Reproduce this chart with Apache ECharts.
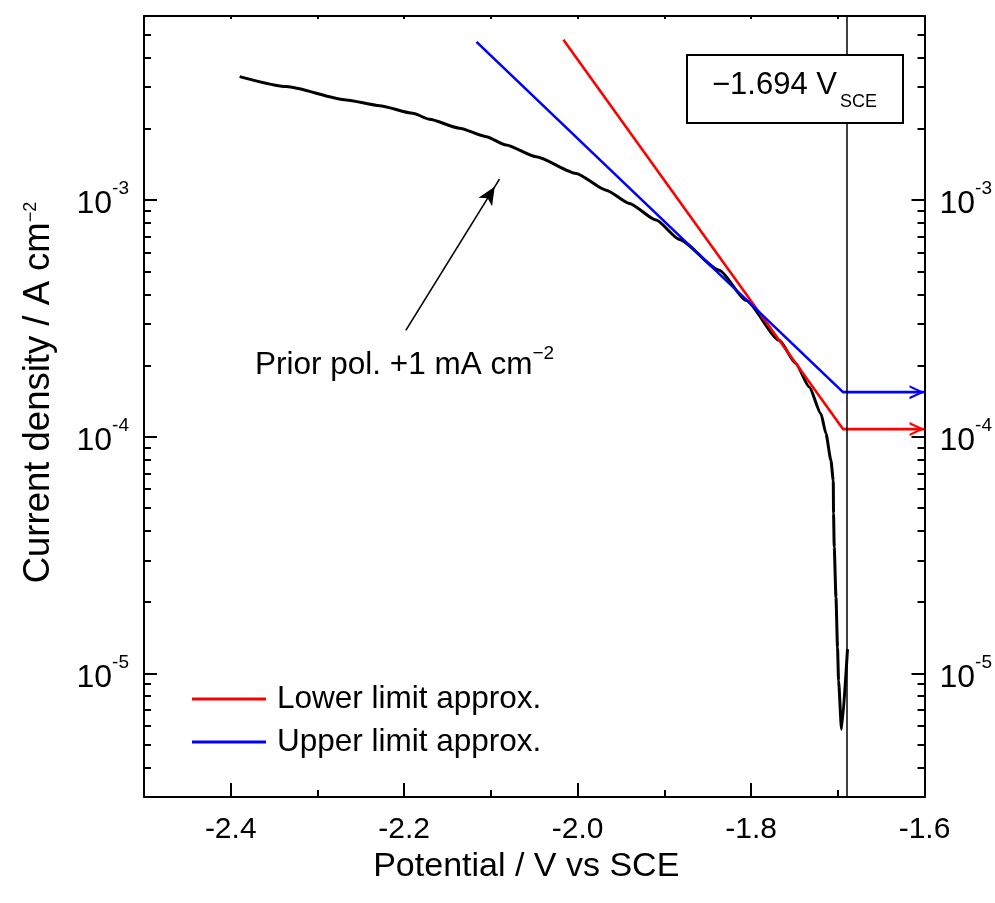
<!DOCTYPE html>
<html>
<head>
<meta charset="utf-8">
<script src="https://cdn.jsdelivr.net/npm/echarts@6/dist/echarts.min.js"></script>
<style>
  html, body { margin: 0; padding: 0; background: #ffffff; }
  #chart { width: 995px; height: 903px; }
</style>
</head>
<body>
<div id="chart"></div>
<script>
// Cathodic polarisation curve after prior polarisation at +1 mA cm^-2
const potential = [-2.3897, -2.3359, -2.2668, -2.2284, -2.1900, -2.1708, -2.1362, -2.1054,
  -2.0824, -2.0478, -2.0017, -1.9671, -1.9403, -1.9095, -1.8827, -1.8366, -1.8058, -1.7675,
  -1.7482, -1.7329, -1.7194, -1.7136, -1.7079, -1.7052, -1.7049, -1.7041, -1.7021, -1.7003,
  -1.6991, -1.6957, -1.6888];
const currentDensity = [3.327e-3, 3.018e-3, 2.651e-3, 2.507e-3, 2.329e-3, 2.196e-3, 2.012e-3, 1.854e-3,
  1.709e-3, 1.525e-3, 1.297e-3, 1.102e-3, 9.68e-4, 8.23e-4, 6.82e-4, 5.05e-4, 3.77e-4, 2.554e-4,
  2.035e-4, 1.621e-4, 1.250e-4, 1.029e-4, 7.93e-5, 6.53e-5, 4.73e-5, 3.405e-5, 2.092e-5, 1.285e-5,
  9.29e-6, 5.80e-6, 1.265e-5];

// Corrosion potential (V vs SCE)
const corrosionPotential = -1.694;

// Tafel extrapolations: lower and upper limit estimates of the corrosion current
const lowerLimitPotential = [-2.0164, -1.694, -1.6];
const lowerLimitCurrent = [4.757e-3, 1.077e-4, 1.077e-4];
const upperLimitPotential = [-2.1166, -1.694, -1.6];
const upperLimitCurrent = [4.667e-3, 1.543e-4, 1.543e-4];

// Annotation arrow: tail and head (potential, current density)
const arrowTail = [-2.1981, 2.816e-4];
const arrowHead = [-2.0901, 1.227e-3];

// Axis ranges and ticks
const xMin = -2.5, xMax = -1.6;
const xMajorTicks = [-2.4, -2.2, -2.0, -1.8, -1.6];
const xMinorTicks = [-2.3, -2.1, -1.9, -1.7];
const xTopTicks = [-2.4, -2.3, -2.2, -2.1, -2.0, -1.9, -1.8, -1.7];
const yMinValue = 3e-6, yMaxValue = 6e-3;
const yMajorTicks = [1e-5, 1e-4, 1e-3];
const yMinorTicks = [4e-6, 5e-6, 6e-6, 7e-6, 8e-6, 9e-6,
  2e-5, 3e-5, 4e-5, 5e-5, 6e-5, 7e-5, 8e-5, 9e-5,
  2e-4, 3e-4, 4e-4, 5e-4, 6e-4, 7e-4, 8e-4, 9e-4,
  2e-3, 3e-3, 4e-3, 5e-3];

const seriesNames = ['Lower limit approx.', 'Upper limit approx.'];

const FONT = "'Liberation Sans', Arial, Helvetica, sans-serif";
const lg = Math.log10;
const frame = { color: '#000', width: 2 };
// open chevron used as the arrow head of the horizontal extrapolation lines
const chevron = 'path://M0,0 L15,7 L0,14 L0,11.6 L10.4,7 L0,2.4 Z';

function pairs(xs, ys) { return xs.map((x, i) => [x, lg(ys[i])]); }
function arrowed(xs, ys) {
  const pts = pairs(xs, ys);
  const last = pts.length - 1;
  return pts.map((p, i) => i === last
    ? { value: p, symbol: chevron, symbolSize: [15, 14], symbolOffset: [-7.5, 0] }
    : p);
}

// "10" with a raised exponent
const powerRich = {
  m: { fontSize: 32, lineHeight: 41, verticalAlign: 'bottom', fontFamily: FONT, color: '#000' },
  s: { fontSize: 19, lineHeight: 19, verticalAlign: 'top', fontFamily: FONT, color: '#000' }
};
const powerLabel = v => '{m|10}{s|' + Math.round(v) + '}';

function yAxisPair(pos, withName) {
  const major = {
    type: 'value', position: pos, min: lg(yMinValue), max: lg(yMaxValue),
    axisLine: { show: true, onZero: false, lineStyle: frame },
    axisTick: { show: true, inside: true, length: 13, customValues: yMajorTicks.map(lg), lineStyle: frame },
    axisLabel: { customValues: yMajorTicks.map(lg), formatter: powerLabel, rich: powerRich, margin: 15 },
    splitLine: { show: false }
  };
  if (withName) {
    Object.assign(major, {
      name: '{m|Current density / A cm}{s|\u22122}',
      nameLocation: 'middle', nameRotate: 90, nameGap: 87,
      nameTextStyle: {
        padding: [0, 0, 0, 28],
        rich: {
          m: { fontSize: 36.5, lineHeight: 35, verticalAlign: 'bottom', fontFamily: FONT, color: '#000' },
          s: { fontSize: 18, lineHeight: 18, verticalAlign: 'top', fontFamily: FONT, color: '#000' }
        }
      }
    });
  }
  const minor = {
    type: 'value', position: pos, min: lg(yMinValue), max: lg(yMaxValue),
    axisLine: { show: false },
    axisTick: { show: true, inside: true, length: 7, customValues: yMinorTicks.map(lg), lineStyle: frame },
    axisLabel: { show: false },
    splitLine: { show: false }
  };
  return [major, minor];
}

const chart = echarts.init(document.getElementById('chart'), null, { renderer: 'canvas' });

chart.setOption({
  animation: false,
  backgroundColor: '#ffffff',
  textStyle: { fontFamily: FONT },
  grid: { left: 144, right: 70, top: 16, bottom: 106 },
  legend: {
    data: seriesNames,
    orient: 'vertical', left: 192, top: 683, padding: 0,
    icon: 'rect', itemWidth: 74, itemHeight: 3, itemGap: 11,
    textStyle: { fontSize: 31.5, lineHeight: 30, color: '#000', fontFamily: FONT, padding: [0, 0, 0, 6] }
  },
  xAxis: [
    {
      type: 'value', position: 'bottom', min: xMin, max: xMax,
      axisLine: { show: true, onZero: false, lineStyle: frame },
      axisTick: { show: true, inside: true, length: 14, customValues: xMajorTicks, lineStyle: frame },
      axisLabel: { customValues: xMajorTicks, formatter: v => v.toFixed(1),
        fontSize: 30, color: '#000', fontFamily: FONT, margin: 18 },
      splitLine: { show: false },
      name: 'Potential / V vs SCE', nameLocation: 'middle', nameGap: 53,
      nameTextStyle: { fontSize: 34, color: '#000', fontFamily: FONT, padding: [0, 16, 0, 0] }
    },
    {
      type: 'value', position: 'bottom', min: xMin, max: xMax,
      axisLine: { show: false },
      axisTick: { show: true, inside: true, length: 7, customValues: xMinorTicks, lineStyle: frame },
      axisLabel: { show: false }, splitLine: { show: false }
    },
    {
      type: 'value', position: 'top', min: xMin, max: xMax,
      axisLine: { show: true, onZero: false, lineStyle: frame },
      axisTick: { show: true, inside: true, length: 3, customValues: xTopTicks, lineStyle: frame },
      axisLabel: { show: false }, splitLine: { show: false }
    }
  ],
  yAxis: [...yAxisPair('left', true), ...yAxisPair('right', false)],
  series: [
    {
      name: 'Polarisation curve', type: 'line', xAxisIndex: 0, yAxisIndex: 0,
      data: pairs(potential, currentDensity),
      showSymbol: false, symbol: 'none',
      smooth: 0.2, smoothMonotone: 'x',
      lineStyle: { color: '#000', width: 3 },
      z: 3,
      markLine: {
        silent: true, animation: false,
        symbol: ['none', 'none'],
        label: { show: false },
        data: [
          { xAxis: corrosionPotential,
            lineStyle: { color: '#000', width: 1.5, type: 'solid' } },
          [
            { coord: [arrowTail[0], lg(arrowTail[1])], symbol: 'none',
              lineStyle: { color: '#000', width: 1.6, type: 'solid' } },
            { coord: [arrowHead[0], lg(arrowHead[1])], symbol: 'arrow',
              symbolSize: [12, 18], symbolOffset: [0, 9] }
          ]
        ]
      }
    },
    {
      name: seriesNames[0], type: 'line', xAxisIndex: 0, yAxisIndex: 0,
      data: arrowed(lowerLimitPotential, lowerLimitCurrent),
      symbol: 'none', showSymbol: true,
      lineStyle: { color: '#ff0000', width: 2.6 },
      itemStyle: { color: '#ff0000', borderWidth: 0 },
      z: 4
    },
    {
      name: seriesNames[1], type: 'line', xAxisIndex: 0, yAxisIndex: 0,
      data: arrowed(upperLimitPotential, upperLimitCurrent),
      symbol: 'none', showSymbol: true,
      lineStyle: { color: '#0000ff', width: 2.6 },
      itemStyle: { color: '#0000ff', borderWidth: 0 },
      z: 4
    }
  ],
  graphic: [
    {
      type: 'rect', z: 100,
      shape: { x: 687, y: 55, width: 216, height: 68 },
      style: { fill: '#ffffff', stroke: '#000', lineWidth: 2 }
    },
    {
      type: 'text', z: 101, x: 712, y: 70,
      style: {
        text: '{m|\u22121.694 V}{s|SCE}',
        verticalAlign: 'top', align: 'left',
        rich: {
          m: { fontSize: 31, lineHeight: 31, verticalAlign: 'top', fontFamily: FONT, fill: '#000' },
          s: { fontSize: 18, lineHeight: 41.5, verticalAlign: 'bottom', fontFamily: FONT, fill: '#000', padding: [0, 0, 0, 3] }
        }
      }
    },
    {
      type: 'text', z: 101, x: 255, y: 344.6,
      style: {
        text: '{m|Prior pol. +1 mA cm}{s|\u22122}',
        verticalAlign: 'top', align: 'left',
        rich: {
          m: { fontSize: 31.5, lineHeight: 36.4, verticalAlign: 'bottom', fontFamily: FONT, fill: '#000' },
          s: { fontSize: 19, lineHeight: 19, verticalAlign: 'top', fontFamily: FONT, fill: '#000' }
        }
      }
    }
  ]
});
</script>
</body>
</html>
